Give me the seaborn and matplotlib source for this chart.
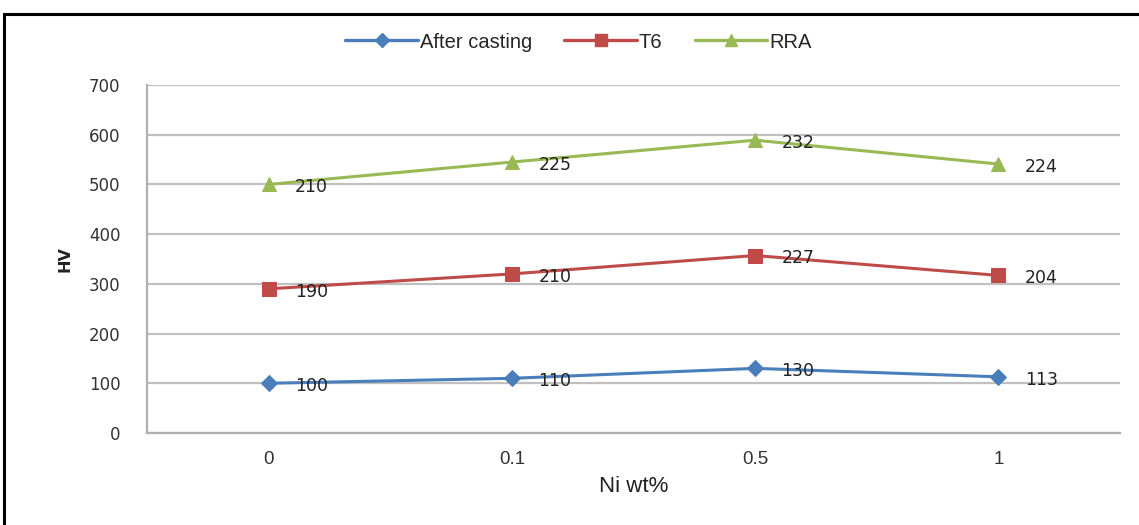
import matplotlib
matplotlib.use("Agg")
import matplotlib.pyplot as plt
import seaborn as sns
import pandas as pd
import numpy as np
from matplotlib.patches import Rectangle
from matplotlib.lines import Line2D

categories = ["0", "0.1", "0.5", "1"]
after_casting = [100, 110, 130, 113]
t6 = [190, 210, 227, 204]
rra = [210, 225, 232, 224]
series_names = ["After casting", "T6", "RRA"]
y_ticks = [0, 100, 200, 300, 400, 500, 600, 700]

colors = ["#4a7ebb", "#be4b48", "#98b954"]
markers = ["D", "s", "^"]
msizes = [8, 10, 10]

# stacked line chart (Excel style): each series sits on top of the previous
vals = np.array([after_casting, t6, rra], dtype=float)
stacked = np.cumsum(vals, axis=0)

rows = []
for si, name in enumerate(series_names):
    for ci, c in enumerate(categories):
        rows.append({"Ni": c, "series": name, "cum": stacked[si, ci], "val": vals[si, ci]})
df = pd.DataFrame(rows)

sns.set_theme(style="white")
plt.rcParams["font.family"] = ["DejaVu Sans"]

fig = plt.figure(figsize=(11.39, 5.25), dpi=100)
ax = fig.add_axes([147 / 1139, 1 - 433 / 525, (1120 - 147) / 1139, (433 - 85) / 525])

for si, name in enumerate(series_names):
    d = df[df["series"] == name]
    sns.lineplot(data=d, x="Ni", y="cum", ax=ax, color=colors[si], marker=markers[si],
                 markersize=msizes[si], markeredgecolor=colors[si], linewidth=2.2,
                 legend=False, zorder=3)
    for _, r in d.iterrows():
        ax.annotate(f"{int(r['val'])}", xy=(r["Ni"], r["cum"]), xytext=(19, -2),
                    textcoords="offset points", ha="left", va="center",
                    fontsize=12.5, color="#222222", zorder=4)

ax.set_xlim(-0.5, 3.5)
ax.set_ylim(0, 700)
ax.set_yticks(y_ticks)
ax.set_yticklabels([str(v) for v in y_ticks], fontsize=12, color="#333333")
ax.tick_params(axis="x", labelsize=13.5, colors="#333333", pad=13, length=0)
ax.tick_params(axis="y", length=0, pad=19)
for lbl in ax.get_xticklabels():
    lbl.set_fontfamily("Liberation Sans")
ax.grid(axis="y", color="#c0c0c0", linewidth=1.6)
ax.set_axisbelow(True)
for s in ["top", "right"]:
    ax.spines[s].set_visible(False)
for s in ["left", "bottom"]:
    ax.spines[s].set_color("#b0b0b0")
    ax.spines[s].set_linewidth(1.6)

ax.set_ylabel("HV", fontsize=11.5, fontweight="bold", labelpad=12, color="#222222")
ax.set_xlabel("Ni wt%", fontsize=16, color="#222222", labelpad=6, fontfamily="Liberation Sans")

handles = [Line2D([0], [0], color=colors[i], marker=markers[i], markersize=msizes[i] - 1,
                  linewidth=2.4, markeredgecolor=colors[i]) for i in range(3)]
fig.legend(handles, series_names, loc="center", bbox_to_anchor=(0.508, 0.92), ncol=3,
           frameon=False, handlelength=3.6, columnspacing=1.6,
           handletextpad=0.1, prop={"family": "Liberation Sans", "size": 14.5})

# outer frame
fig.patches.append(Rectangle((4 / 1139, -0.1), 1.2, 1 - 14 / 525 + 0.1,
                             transform=fig.transFigure, fill=False,
                             edgecolor="black", linewidth=2.2, zorder=10))

fig.savefig("out.png", dpi=100)
